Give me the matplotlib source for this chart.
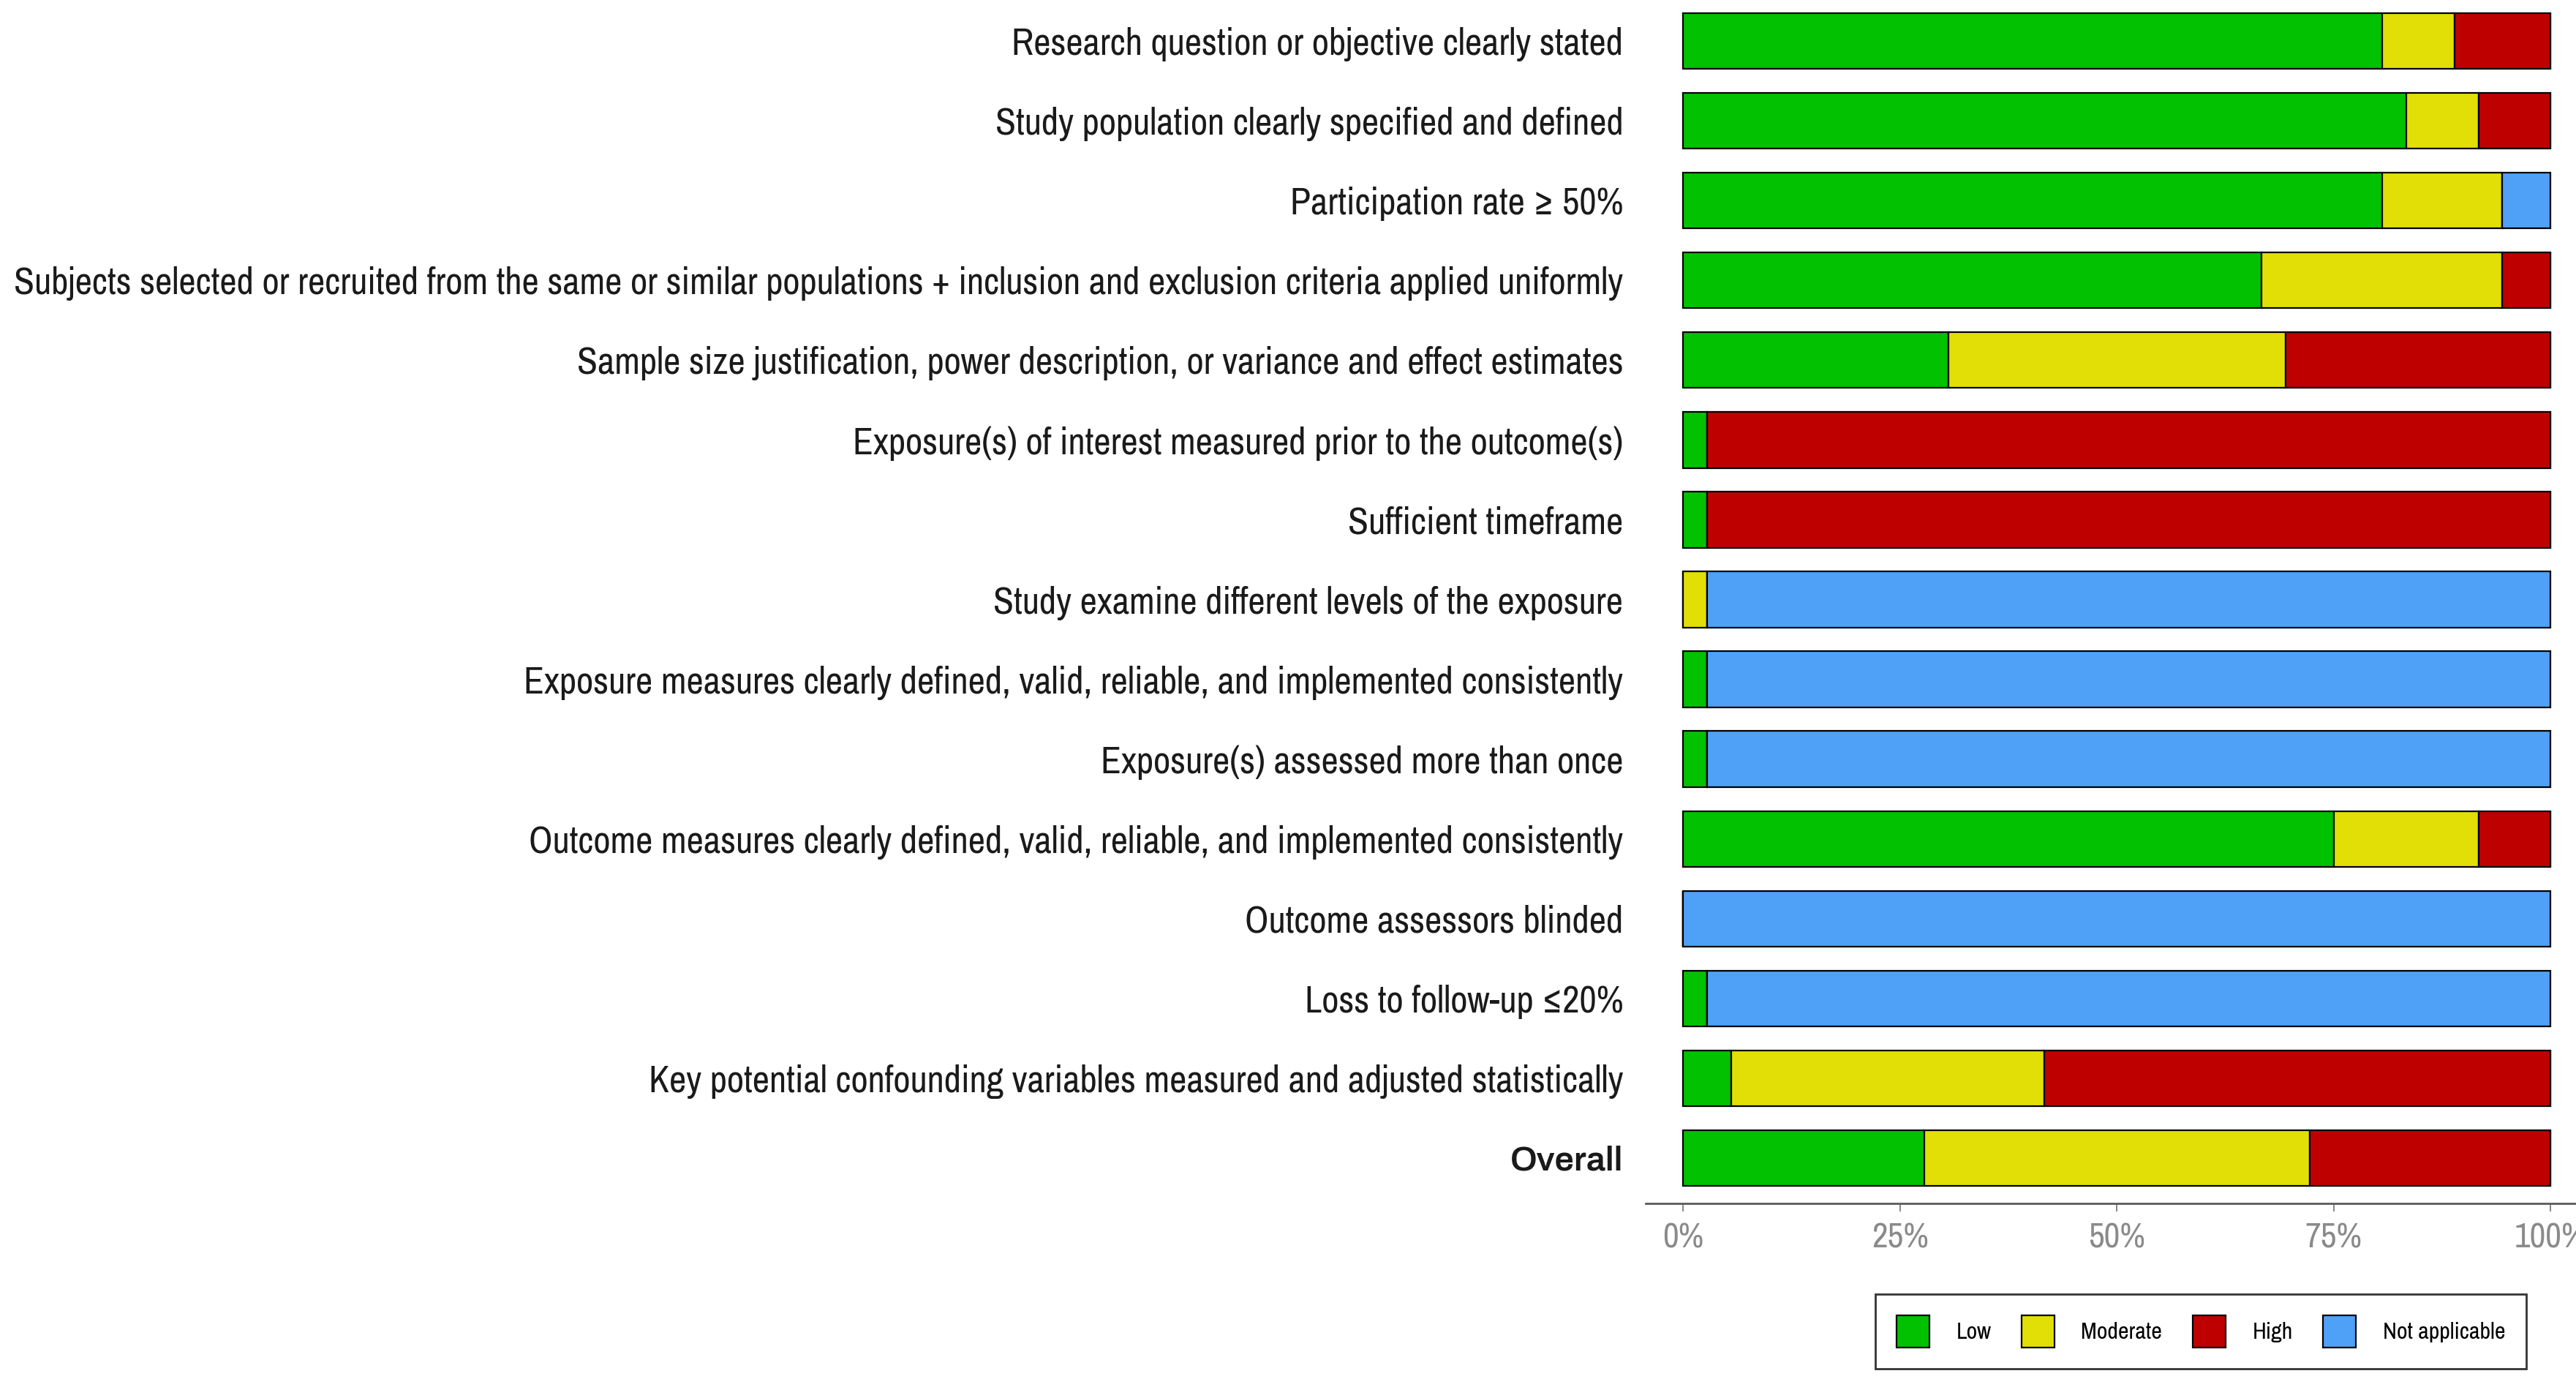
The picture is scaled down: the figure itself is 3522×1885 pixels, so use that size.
import matplotlib
matplotlib.use("Agg")
import matplotlib.pyplot as plt
import numpy as np
from matplotlib.patches import Patch

# number of studies per judgement, one entry per domain (top to bottom)
domains = [
    "Research question or objective clearly stated",
    "Study population clearly specified and defined",
    "Participation rate ≥ 50%",
    "Subjects selected or recruited from the same or similar populations + inclusion and exclusion criteria applied uniformly",
    "Sample size justification, power description, or variance and effect estimates",
    "Exposure(s) of interest measured prior to the outcome(s)",
    "Sufficient timeframe",
    "Study examine different levels of the exposure",
    "Exposure measures clearly defined, valid, reliable, and implemented consistently",
    "Exposure(s) assessed more than once",
    "Outcome measures clearly defined, valid, reliable, and implemented consistently",
    "Outcome assessors blinded",
    "Loss to follow-up ≤20%",
    "Key potential confounding variables measured and adjusted statistically",
    "Overall",
]
low = [29, 30, 29, 24, 11, 1, 1, 0, 1, 1, 27, 0, 1, 2, 10]
moderate = [3, 3, 5, 10, 14, 0, 0, 1, 0, 0, 6, 0, 0, 13, 16]
high = [4, 3, 0, 2, 11, 35, 35, 0, 0, 0, 3, 0, 0, 21, 10]
not_applicable = [0, 0, 2, 0, 0, 0, 0, 35, 35, 35, 0, 36, 35, 0, 0]

judgements = ["Low", "Moderate", "High", "Not applicable"]
colours = ["#02C100", "#E2DF07", "#BF0000", "#4EA1F7"]

plt.rcParams["font.family"] = ["Archivo Narrow", "Liberation Sans", "DejaVu Sans"]

counts = np.array([low, moderate, high, not_applicable], dtype=float)
props = counts / counts.sum(axis=0)

W, H = 3523, 1885
fig = plt.figure(figsize=(W / 100, H / 100), dpi=100)
ax = fig.add_axes([2250 / W, 1 - 1645 / H, 1 - 2250 / W, 1645 / H])

y = np.arange(len(domains))
left = np.zeros(len(domains))
for p, c in zip(props, colours):
    ax.barh(y, p, left=left, height=0.7, color=c, edgecolor="black", linewidth=1.6)
    left += p

ax.set_xlim(-0.043, 1.030)
ax.set_ylim(14.569, -0.514)

ax.set_yticks(y)
labels = ax.set_yticklabels(domains, fontsize=33, color="#1a1a1a")
ax.tick_params(axis="y", length=0, pad=22)

# size the labels so the longest one spans the same width as in the original
renderer = fig.canvas.get_renderer()
widest = max(t.get_window_extent(renderer).width for t in labels)
label_size = 33 * 2204 / widest
for t in labels:
    t.set_fontsize(label_size)
# Archivo Narrow has no bold face here, so the bold "Overall" uses Archivo
labels[-1].set_family(["Archivo", "Liberation Sans", "DejaVu Sans"])
labels[-1].set_fontweight("bold")
labels[-1].set_fontsize(label_size * 0.92)

ax.set_xticks([0, 0.25, 0.5, 0.75, 1.0])
ax.set_xticklabels(["0%", "25%", "50%", "75%", "100%"], fontsize=label_size * 0.93, color="#8a8a8a")
ax.tick_params(axis="x", length=8, width=1.5, color="#8a8a8a", pad=10)

for side in ["top", "right", "left"]:
    ax.spines[side].set_visible(False)
ax.spines["bottom"].set_color("#5a5a5a")
ax.spines["bottom"].set_linewidth(2)

handles = [Patch(facecolor=c, edgecolor="black", linewidth=1.6, label=j)
           for j, c in zip(judgements, colours)]
leg = fig.legend(handles=handles, loc="center", ncol=4,
                 bbox_to_anchor=(3009 / W, 1 - 1820 / H),
                 fontsize=23, frameon=True, fancybox=False,
                 handlelength=1.4, handleheight=1.75, handletextpad=1.15,
                 columnspacing=1.3, borderpad=0.9)
leg.get_frame().set_edgecolor("black")
leg.get_frame().set_linewidth(2)

fig.savefig("out.png", dpi=100, facecolor="white")
